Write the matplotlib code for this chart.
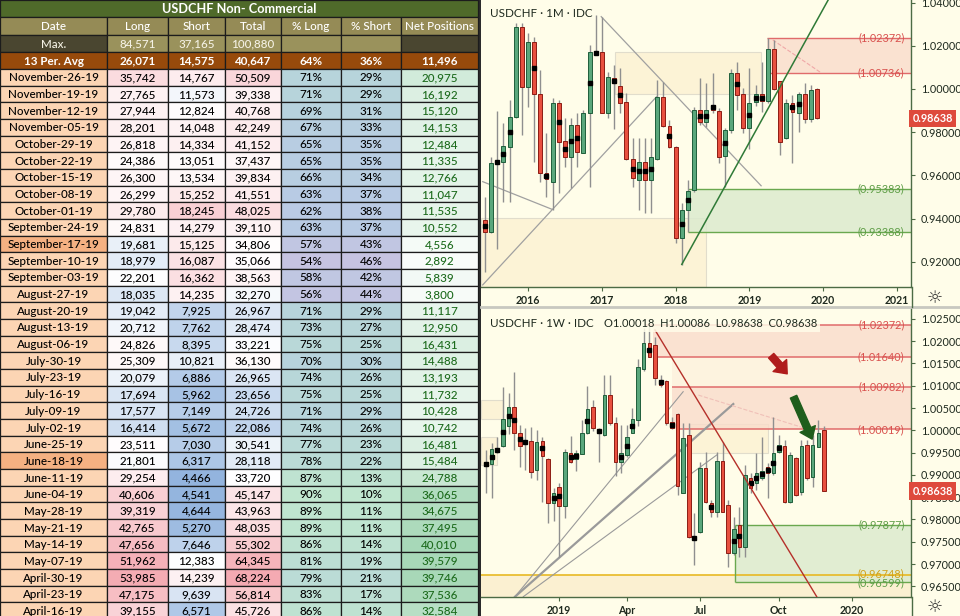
import numpy as np
import matplotlib
matplotlib.use("Agg")
import matplotlib.pyplot as plt
import matplotlib.colors as mcolors
from matplotlib.patches import Rectangle, FancyArrowPatch
from matplotlib.transforms import blended_transform_factory

plt.rcParams['font.family'] = ['Lato', 'DejaVu Sans']

# ---------------- TABLA COT ----------------
fechas = ["November-26-19", "November-19-19", "November-12-19", "November-05-19",
          "October-29-19", "October-22-19", "October-15-19", "October-08-19",
          "October-01-19", "September-24-19", "September-17-19", "September-10-19",
          "September-03-19", "August-27-19", "August-20-19", "August-13-19",
          "August-06-19", "July-30-19", "July-23-19", "July-16-19", "July-09-19",
          "July-02-19", "June-25-19", "June-18-19", "June-11-19", "June-04-19",
          "May-28-19", "May-21-19", "May-14-19", "May-07-19", "April-30-19",
          "April-23-19", "April-16-19"]
largos = [35742, 27765, 27944, 28201, 26818, 24386, 26300, 26299, 29780, 24831,
          19681, 18979, 22201, 18035, 19042, 20712, 24826, 25309, 20079, 17694,
          17577, 16414, 23511, 21801, 29254, 40606, 39319, 42765, 47656, 51962,
          53985, 47175, 39155]
cortos = [14767, 11573, 12824, 14048, 14334, 13051, 13534, 15252, 18245, 14279,
          15125, 16087, 16362, 14235, 7925, 7762, 8395, 10821, 6886, 5962,
          7149, 5672, 7030, 6317, 4466, 4541, 4644, 5270, 7646, 12383,
          14239, 9639, 6571]
totales = [50509, 39338, 40768, 42249, 41152, 37437, 39834, 41551, 48025, 39110,
           34806, 35066, 38563, 32270, 26967, 28474, 33221, 36130, 26965, 23656,
           24726, 22086, 30541, 28118, 33720, 45147, 43963, 48035, 55302, 64345,
           68224, 56814, 45726]
pct_largo = [71, 71, 69, 67, 65, 65, 66, 63, 62, 63, 57, 54, 58, 56, 71, 73, 75,
             70, 74, 75, 71, 74, 77, 78, 87, 90, 89, 89, 86, 81, 79, 83, 86]
pct_corto = [29, 29, 31, 33, 35, 35, 34, 37, 38, 37, 43, 46, 42, 44, 29, 27, 25,
             30, 26, 25, 29, 26, 23, 22, 13, 10, 11, 11, 14, 19, 21, 17, 14]
netas = [20975, 16192, 15120, 14153, 12484, 11335, 12766, 11047, 11535, 10552,
         4556, 2892, 5839, 3800, 11117, 12950, 16431, 14488, 13193, 11732,
         10428, 10742, 16481, 15484, 24788, 36065, 34675, 37495, 40010, 39579,
         39746, 37536, 32584]
fechas_resaltadas = ["September-17-19", "June-18-19"]

titulo_tabla = "USDCHF Non- Commercial"
encabezados = ["Date", "Long", "Short", "Total", "% Long", "% Short", "Net Positions"]
fila_max = ["Max.", "84,571", "37,165", "100,880", "", "", ""]
fila_prom = ["13 Per. Avg", "26,071", "14,575", "40,647", "64%", "36%", "11,496"]

# ---------------- VELAS MENSUALES (jun-2015 .. dic-2019) ----------------
m_open = [0.9394, 0.9340, 0.9661, 0.9664, 0.9733, 0.9872, 1.0285, 1.0011, 1.0216, 0.9975,
          0.9613, 0.9571, 0.9934, 0.9761, 0.9687, 0.9833, 0.9705, 0.9887, 1.0162, 1.0173,
          0.9887, 1.0049, 1.0015, 0.9938, 0.9674, 0.9579, 0.9664, 0.9579, 0.9674, 0.9965,
          0.9830, 0.9733, 0.9309, 0.9440, 0.9532, 0.9903, 0.9849, 0.9926, 0.9898, 0.9690,
          0.9810, 1.0076, 0.9975, 0.9821, 0.9941, 0.9975, 0.9946, 1.0184, 1.0037, 0.9772,
          0.9934, 0.9887, 0.9977, 0.9861, 0.9998]
m_high = [0.9502, 0.9687, 0.9898, 0.9841, 0.9949, 1.0304, 1.0304, 1.0258, 1.0242, 1.0088,
          0.9795, 0.9957, 0.9949, 0.9864, 0.9864, 0.9887, 0.9903, 1.0204, 1.0343, 1.0335,
          1.0080, 1.0111, 1.0096, 0.9980, 0.9772, 0.9772, 0.9772, 0.9772, 1.0042, 1.0034,
          0.9856, 0.9736, 0.9471, 0.9579, 0.9918, 1.0049, 1.0026, 1.0073, 0.9910, 0.9818,
          1.0091, 1.0127, 1.0003, 1.0096, 1.0019, 1.0127, 1.0237, 1.0227, 1.0039, 0.9952,
          0.9972, 0.9988, 1.0026, 1.0019, 1.0003]
m_low = [0.9154, 0.9332, 0.9258, 0.9478, 0.9478, 0.9864, 0.9787, 0.9918, 0.9664, 0.9571,
         0.9502, 0.9440, 0.9520, 0.9640, 0.9540, 0.9640, 0.9702, 0.9548, 1.0157, 0.9887,
         0.9864, 0.9813, 0.9887, 0.9671, 0.9548, 0.9440, 0.9427, 0.9424, 0.9671, 0.9826,
         0.9725, 0.9289, 0.9185, 0.9340, 0.9525, 0.9833, 0.9826, 0.9887, 0.9656, 0.9548,
         0.9795, 0.9903, 0.9795, 0.9721, 0.9921, 0.9895, 0.9934, 0.9995, 0.9694, 0.9767,
         0.9659, 0.9802, 0.9841, 0.9849, 0.9860]
m_close = [0.9340, 0.9656, 0.9667, 0.9736, 0.9872, 1.0285, 1.0011, 1.0216, 0.9975, 0.9613,
           0.9582, 0.9934, 0.9756, 0.9687, 0.9833, 0.9710, 0.9887, 1.0170, 1.0173, 0.9890,
           1.0054, 1.0026, 0.9934, 0.9674, 0.9586, 0.9664, 0.9579, 0.9684, 0.9965, 0.9830,
           0.9733, 0.9309, 0.9440, 0.9528, 0.9903, 0.9849, 0.9903, 0.9903, 0.9684, 0.9810,
           1.0076, 0.9972, 0.9821, 0.9934, 0.9975, 0.9946, 1.0184, 1.0000, 0.9756, 0.9937,
           0.9895, 0.9975, 0.9861, 0.9995, 0.9864]
m_marcas = [0, 2, 3, 4, 8, 10, 12, 13, 14, 15, 17, 18, 21, 22, 24, 25, 26, 27, 30,
            32, 33, 35, 36, 37, 39, 41, 43, 44, 45, 50, 51]
m_ticks = [7, 19, 31, 43, 55, 67]
m_tick_labels = ["2016", "2017", "2018", "2019", "2020", "2021"]

# ---------------- VELAS SEMANALES ----------------
w_open = [0.99200, 0.99245, 0.99521, 0.99656, 1.00105, 1.00516, 0.99948, 0.99738, 0.99768, 0.99110,
          0.99768, 0.99357, 0.98377, 0.98736, 0.98310, 0.99499, 0.99349, 0.99469, 0.99933, 1.00516,
          1.00022, 0.99895, 1.00793, 1.00172, 0.99297, 0.99447, 0.99948, 1.00232, 1.01369, 1.01967,
          1.01915, 1.01129, 1.01107, 1.00194, 1.00359, 0.98601, 0.99895, 0.97592, 0.97711, 0.99162,
          0.98377, 0.98175, 0.99312, 0.98325, 0.97240, 0.97876, 0.97375, 0.98923, 0.98826, 0.98923,
          0.99170, 0.99035, 0.99521, 0.99648, 0.98400, 0.99372, 0.98624, 0.99671, 0.98960, 0.99634,
          1.00018]
w_high = [0.99559, 0.99708, 0.99858, 1.00965, 1.00845, 1.01316, 1.00120, 1.00045, 1.00082, 1.00007,
          0.99858, 0.99387, 0.98699, 0.98811, 0.99574, 0.99873, 0.99559, 1.00232, 1.00995, 1.00681,
          1.00060, 1.01241, 1.01241, 1.00292, 1.00120, 1.00120, 1.00494, 1.01593, 1.02289, 1.02372,
          1.02102, 1.01241, 1.01129, 1.00307, 1.00381, 1.00157, 1.00157, 0.98138, 0.99297, 0.99521,
          0.98437, 0.99521, 0.99746, 0.98437, 0.98063, 0.98287, 0.99222, 0.99035, 0.99484, 0.99858,
          0.99260, 1.00307, 0.99895, 0.99783, 0.99521, 0.99409, 0.99783, 0.99783, 0.99895, 1.00232,
          1.00086]
w_low = [0.98587, 0.98489, 0.99484, 0.99634, 0.99918, 0.99559, 0.99185, 0.99110, 0.98923, 0.98886,
         0.98400, 0.97928, 0.97973, 0.97166, 0.98026, 0.99275, 0.99095, 0.99469, 0.99918, 0.99993,
         0.99297, 0.99873, 1.00120, 0.98975, 0.99050, 0.99409, 0.99933, 1.00097, 1.01339, 1.01638,
         1.01017, 1.00980, 1.00120, 1.00022, 0.98549, 0.98587, 0.97577, 0.96979, 0.97689, 0.98377,
         0.98063, 0.98063, 0.98160, 0.96941, 0.97203, 0.97166, 0.97166, 0.98587, 0.98661, 0.98886,
         0.98474, 0.98998, 0.99499, 0.98377, 0.98377, 0.98527, 0.98549, 0.98886, 0.98736, 0.99619,
         0.98638]
w_close = [0.99275, 0.99574, 0.99611, 1.00247, 1.00516, 0.99933, 0.99656, 0.99716, 0.99073, 0.99746,
           0.99424, 0.98362, 0.98601, 0.98310, 0.99521, 0.99297, 0.99499, 0.99948, 1.00479, 1.00045,
           0.99933, 1.00793, 1.00172, 0.99297, 0.99484, 0.99858, 1.00247, 1.01413, 1.01952, 1.01653,
           1.01167, 1.01017, 1.00157, 1.00045, 0.98758, 0.99835, 0.97614, 0.97569, 0.99162, 0.98400,
           0.98160, 0.99319, 0.98175, 0.97240, 0.97786, 0.97390, 0.98998, 0.98699, 0.99035, 0.99095,
           0.99035, 0.99499, 0.99671, 0.98400, 0.99447, 0.98549, 0.99648, 0.98923, 0.99671, 0.99948,
           0.98638]
w_marcas = [0, 1, 2, 3, 4, 5, 6, 7, 10, 12, 13, 15, 16, 18, 20, 24, 25, 26, 29, 31,
            33, 37, 40, 44, 45, 47, 48, 49, 50, 51, 52]
w_ticks = [13, 25, 38, 52, 65]
w_tick_labels = ["2019", "Apr", "Jul", "Oct", "2020"]

ultimo_precio = 0.98638

# Dibujos del grafico mensual: zonas (inicio, bajo, alto) y lineas ((x0, y0), (x1, y1))
m_zona_roja = (45.9, 1.00736, 1.02372)
m_zona_verde = (33.0, 0.93388, 0.95383)
m_caja_beige = (21.1, 44.9, 0.99755, 1.0170)
m_caja_beige_baja = (35.9, 0.94042)
m_lineas_grises = [((18.9, 1.0335), (44.9, 0.9552)),
                   ((-0.37, 0.9571), (10.9, 0.9443)),
                   ((-0.37, 0.9093), (27.9, 0.99644))]
m_linea_verde = ((32.0, 0.9188), (55.8, 1.0412))
m_linea_rosa = ((46.8, 1.0227), (54.7, 1.0074))

# Dibujos del grafico semanal
w_niveles_rojos = [(28.2, 1.02372), (29.7, 1.01640), (33.0, 1.00982), (34.1, 1.00019)]
w_zona_verde = (44.2, 0.96599, 0.97877)
w_linea_oro = 0.96748
w_cajas_beige = [(36.2, 50.0, 0.99484, 1.00135), (-0.9, 2.96, 1.00247, 1.0068),
                 (-0.9, 1.9, 0.99221, 0.99856)]
w_linea_roja = ((30.0, 1.0225), (58.7, 0.9627))
w_abanico = [((5.15, 0.96267), (35.0, 1.00866), 0.8),
             ((5.15, 0.96267), (43.9, 1.0059), 1.6),
             ((6.62, 0.96267), (40.96, 0.99446), 0.8)]
w_linea_rosa = ((37.7, 1.0079), (57.8, 1.0000))
w_flecha_roja = ((50.3, 1.0172), (53.8, 1.0122))
w_flecha_verde = ((54.4, 1.0081), (58.1, 0.99744))

# ---------------- ESTILO ----------------
FONDO = '#fffde9'
VERDE = '#5aa77c'
VERDE_BORDE = '#1f5e3b'
ROJO = '#e8503f'
ROJO_BORDE = '#8c1c14'
MECHA = '#8f8f8f'
EJE = '#4c6b45'
TXT = '#1f2a1f'
ZONA_ROJA = '#f9dccb'
LINEA_ROJA = '#e06b6b'
ZONA_VERDE = '#dcebcf'
LINEA_VERDE = '#6aa84f'
BEIGE = '#fbefcf'

fig = plt.figure(figsize=(9.6, 6.16), dpi=100)
fig.patch.set_facecolor(FONDO)


def mezcla(c1, c2, t):
    t = min(max(t, 0.0), 1.0)
    a = np.array(mcolors.to_rgb(c1))
    b = np.array(mcolors.to_rgb(c2))
    return tuple(a * (1 - t) + b * t)


def escala3(v, lo, mid, hi):
    if v < mid:
        return mezcla('#ffffff', '#8db0dc', (mid - v) / (mid - lo))
    return mezcla('#ffffff', '#f3a1a9', (v - mid) / (hi - mid))


def escala_pct(v):
    paradas = [(54, '#c6c3e1'), (63, '#b8cbe4'), (72, '#b7d5da'), (90, '#c0e6cf')]
    if v <= paradas[0][0]:
        return paradas[0][1]
    for (v0, c0), (v1, c1) in zip(paradas[:-1], paradas[1:]):
        if v <= v1:
            return mezcla(c0, c1, (v - v0) / (v1 - v0))
    return paradas[-1][1]


# ---------------- TABLA ----------------
ax_t = fig.add_axes([0, 0, 481 / 960, 1])
ax_t.set_xlim(0, 481)
ax_t.set_ylim(616, 0)
ax_t.axis('off')
ax_t.add_patch(Rectangle((0, 0), 481, 616, facecolor='#2b2b2b', edgecolor='none'))

bx = [0, 107, 168, 225, 281, 341, 401, 478]
fila_alto = 16.67
y_datos = 69


def celda(x0, x1, y0, y1, fondo, texto='', color='black', peso='medium', tam=8.4):
    ax_t.add_patch(Rectangle((x0, y0), x1 - x0, y1 - y0, facecolor=fondo,
                             edgecolor='#1c1c1c', linewidth=0.9))
    if texto:
        ax_t.text((x0 + x1) / 2, (y0 + y1) / 2 + 0.6, texto, ha='center', va='center',
                  color=color, fontsize=tam, fontweight=peso)


celda(0, 478, 0, 17.3, '#4f6a2a', titulo_tabla, 'white', 'bold', 9.2)
for j, txt in enumerate(encabezados):
    celda(bx[j], bx[j + 1], 17.3, 35, '#958b56', txt, 'white')
for j, txt in enumerate(fila_max):
    fondo = '#4a4630' if j in (0, 6) else '#9a925c'
    celda(bx[j], bx[j + 1], 35, 52, fondo, txt, '#f4f1e4')
for j, txt in enumerate(fila_prom):
    celda(bx[j], bx[j + 1], 52, 69, '#974a0b', txt, 'white', 'bold')

for i in range(len(fechas)):
    y0 = y_datos + i * fila_alto
    y1 = y0 + fila_alto
    fondo_fecha = '#f5b182' if fechas[i] in fechas_resaltadas else '#fcd5b4'
    celda(bx[0], bx[1], y0, y1, fondo_fecha, fechas[i])
    celda(bx[1], bx[2], y0, y1, escala3(largos[i], 8000, 22500, 58000), f"{largos[i]:,}")
    celda(bx[2], bx[3], y0, y1, escala3(cortos[i], 4000, 12500, 24000), f"{cortos[i]:,}")
    celda(bx[3], bx[4], y0, y1, escala3(totales[i], 12000, 34000, 72000), f"{totales[i]:,}")
    celda(bx[4], bx[5], y0, y1, escala_pct(pct_largo[i]), f"{pct_largo[i]}%")
    celda(bx[5], bx[6], y0, y1, escala_pct(pct_largo[i]), f"{pct_corto[i]}%")
    celda(bx[6], bx[7], y0, y1, mezcla('#ffffff', '#a3d6b4', netas[i] / 42000),
          f"{netas[i]:,}", '#1d6b1d')


# ---------------- GRAFICOS ----------------
def dibujar_velas(ax, o, h, l, c, ancho, marcas):
    o, h, l, c = map(np.asarray, (o, h, l, c))
    x = np.arange(len(o))
    sube = c >= o
    ax.vlines(x, l, h, color=MECHA, linewidth=1.0, zorder=3)
    base = np.minimum(o, c)
    alto = np.maximum(np.abs(c - o), 0.0004)
    ax.bar(x[sube], alto[sube], ancho, bottom=base[sube], color=VERDE,
           edgecolor=VERDE_BORDE, linewidth=0.7, zorder=4)
    ax.bar(x[~sube], alto[~sube], ancho, bottom=base[~sube], color=ROJO,
           edgecolor=ROJO_BORDE, linewidth=0.7, zorder=4)
    medio = (o + c) / 2
    ax.plot(x[marcas], medio[marcas], 's', ms=2.2, color='black', zorder=5)


def preparar_eje(ax, xlim, ylim, yticks, xticks, xlabels):
    ax.set_facecolor(FONDO)
    ax.set_xlim(*xlim)
    ax.set_ylim(*ylim)
    ax.spines['top'].set_visible(False)
    ax.spines['left'].set_visible(False)
    ax.spines['right'].set_color(EJE)
    ax.spines['bottom'].set_color(EJE)
    ax.spines['right'].set_linewidth(1.0)
    ax.spines['bottom'].set_linewidth(1.0)
    ax.yaxis.tick_right()
    ax.set_yticks(yticks)
    ax.set_yticklabels([f"{v:.5f}" for v in yticks])
    ax.tick_params(axis='y', length=3, color=EJE, labelcolor=TXT, labelsize=7.8, pad=4)
    ax.set_xticks(xticks)
    ax.set_xticklabels(xlabels, fontweight='bold')
    ax.tick_params(axis='x', length=3, color=EJE, labelcolor=TXT, labelsize=7.6, pad=3)


def etiqueta_nivel(ax, y, color, desfase=0.0):
    tr = blended_transform_factory(ax.transAxes, ax.transData)
    ax.text(0.985, y + desfase, f"({y:.5f})", transform=tr, ha='right', va='center',
            color=color, fontsize=7.8, zorder=6)


def etiqueta_precio(ax, y):
    tr = blended_transform_factory(ax.transAxes, ax.transData)
    ax.text(1.004, y, f"{y:.5f}", transform=tr, ha='left', va='center', color='white',
            fontsize=7.8, fontweight='bold', clip_on=False, zorder=10,
            bbox=dict(boxstyle='square,pad=0.3', fc='#de4a3c', ec='none'))


# ---- Mensual ----
ax1 = fig.add_axes([481 / 960, (616 - 287) / 616, 430 / 960, 287 / 616])
m_xlim = (-0.65, 69.27)
m_ylim = (0.90833, 1.0412)
preparar_eje(ax1, m_xlim, m_ylim, np.arange(0.92, 1.041, 0.02), m_ticks, m_tick_labels)

bx0, bx1, by0, by1 = m_caja_beige
ax1.add_patch(Rectangle((bx0, by0), bx1 - bx0, by1 - by0, facecolor=BEIGE, alpha=0.7,
                        edgecolor='#d6d2c4', linewidth=0.8, zorder=1))
ax1.add_patch(Rectangle((m_xlim[0], m_ylim[0]), m_caja_beige_baja[0] - m_xlim[0],
                        m_caja_beige_baja[1] - m_ylim[0], facecolor=BEIGE, alpha=0.7,
                        edgecolor='#d6d2c4', linewidth=0.8, zorder=1))
x0, lo, hi = m_zona_roja
ax1.add_patch(Rectangle((x0, lo), m_xlim[1] - x0, hi - lo, facecolor=ZONA_ROJA,
                        alpha=0.8, edgecolor='none', zorder=1))
ax1.hlines([lo, hi], x0, m_xlim[1], color=LINEA_ROJA, linewidth=1.0, zorder=2)
etiqueta_nivel(ax1, hi, '#d9534f')
etiqueta_nivel(ax1, lo, '#d9534f')
x0, lo, hi = m_zona_verde
ax1.add_patch(Rectangle((x0, lo), m_xlim[1] - x0, hi - lo, facecolor=ZONA_VERDE,
                        alpha=0.85, edgecolor='none', zorder=1))
ax1.hlines([lo, hi], x0, m_xlim[1], color=LINEA_VERDE, linewidth=1.0, zorder=2)
etiqueta_nivel(ax1, hi, '#5f9e47')
etiqueta_nivel(ax1, lo, '#5f9e47')

for (p0, p1) in m_lineas_grises:
    ax1.plot([p0[0], p1[0]], [p0[1], p1[1]], color='#a0a0a0', linewidth=0.9, zorder=2)
(p0, p1) = m_linea_verde
ax1.plot([p0[0], p1[0]], [p0[1], p1[1]], color='#2f7a37', linewidth=1.1, zorder=6)
(p0, p1) = m_linea_rosa
ax1.plot([p0[0], p1[0]], [p0[1], p1[1]], color='#f0a8a8', linewidth=0.8, ls='--', zorder=2)

dibujar_velas(ax1, m_open, m_high, m_low, m_close, 0.64, m_marcas)
etiqueta_precio(ax1, ultimo_precio)
ax1.text(0.02, 0.953, "USDCHF · 1M · IDC", transform=ax1.transAxes, fontsize=8.4,
         color=TXT, va='center', ha='left', zorder=8)

# ---- Semanal ----
ax2 = fig.add_axes([481 / 960, (616 - 597) / 616, 430 / 960, 289 / 616])
w_xlim = (-0.89, 75.45)
w_ylim = (0.96260, 1.02744)
preparar_eje(ax2, w_xlim, w_ylim, np.arange(0.965, 1.0251, 0.005), w_ticks, w_tick_labels)

for (c0, c1, y0, y1) in w_cajas_beige:
    ax2.add_patch(Rectangle((c0, y0), c1 - c0, y1 - y0, facecolor=BEIGE, alpha=0.7,
                            edgecolor='#d6d2c4', linewidth=0.8, zorder=1))
ax2.add_patch(Rectangle((w_xlim[0], w_ylim[0]), w_xlim[1] - w_xlim[0],
                        w_linea_oro - w_ylim[0], facecolor=BEIGE, alpha=0.9,
                        edgecolor='none', zorder=1))
ax2.axhline(w_linea_oro, color='#e8b923', linewidth=1.2, zorder=2)
etiqueta_nivel(ax2, w_linea_oro, '#d1a21c', 0.0003)

niv = w_niveles_rojos
ax2.add_patch(Rectangle((niv[1][0], niv[1][1]), w_xlim[1] - niv[1][0], niv[0][1] - niv[1][1],
                        facecolor=ZONA_ROJA, alpha=0.8, edgecolor='none', zorder=1))
ax2.add_patch(Rectangle((niv[2][0], niv[2][1]), w_xlim[1] - niv[2][0], niv[1][1] - niv[2][1],
                        facecolor=ZONA_ROJA, alpha=0.3, edgecolor='none', zorder=1))
ax2.add_patch(Rectangle((niv[2][0], niv[3][1]), w_xlim[1] - niv[2][0], niv[2][1] - niv[3][1],
                        facecolor=ZONA_ROJA, alpha=0.8, edgecolor='none', zorder=1))
for (x0, y) in niv:
    ax2.hlines(y, x0, w_xlim[1], color=LINEA_ROJA, linewidth=1.1, zorder=2)
    etiqueta_nivel(ax2, y, '#d9534f')

x0, lo, hi = w_zona_verde
ax2.add_patch(Rectangle((x0, lo), w_xlim[1] - x0, hi - lo, facecolor=ZONA_VERDE,
                        alpha=0.85, edgecolor='none', zorder=1))
ax2.hlines([lo, hi], x0, w_xlim[1], color=LINEA_VERDE, linewidth=1.0, zorder=2)
ax2.vlines(x0, lo, hi, color=LINEA_VERDE, linewidth=1.0, zorder=2)
etiqueta_nivel(ax2, hi, '#5f9e47')
etiqueta_nivel(ax2, lo, '#5f9e47', -0.0003)

for (p0, p1, lw) in w_abanico:
    ax2.plot([p0[0], p1[0]], [p0[1], p1[1]], color='#9a9a9a', linewidth=lw, zorder=2)
(p0, p1) = w_linea_rosa
ax2.plot([p0[0], p1[0]], [p0[1], p1[1]], color='#f0c0b8', linewidth=0.8, ls='--', zorder=2)

dibujar_velas(ax2, w_open, w_high, w_low, w_close, 0.62, w_marcas)

(p0, p1) = w_linea_roja
ax2.plot([p0[0], p1[0]], [p0[1], p1[1]], color='#b5302a', linewidth=1.0, zorder=6)

ax2.add_patch(FancyArrowPatch(w_flecha_roja[0], w_flecha_roja[1],
                              arrowstyle='simple,head_length=8,head_width=13,tail_width=5',
                              mutation_scale=1, color='#b01c1c', zorder=9))
ax2.add_patch(FancyArrowPatch(w_flecha_verde[0], w_flecha_verde[1],
                              arrowstyle='simple,head_length=8,head_width=12,tail_width=5',
                              mutation_scale=1, color='#1f5e1c', zorder=9))

etiqueta_precio(ax2, ultimo_precio)
ax2.text(0.02, 0.945, "USDCHF · 1W · IDC", transform=ax2.transAxes, fontsize=8.4,
         color=TXT, va='center', ha='left', zorder=8)
ax2.text(0.285, 0.945, "O1.00018  H1.00086  L0.98638  C0.98638", transform=ax2.transAxes,
         fontsize=8, color=TXT, va='center', ha='left', zorder=8,
         bbox=dict(boxstyle='square,pad=0.25', fc=FONDO, ec='none', alpha=0.85))

# separadores y engranajes
fig.add_artist(plt.Line2D([481 / 960, 1], [1 - 307 / 616] * 2, color='#c8c8c0', linewidth=2))
fig.add_artist(plt.Line2D([911.5 / 960] * 2, [1 - 307 / 616, 1 - 287 / 616], color=EJE, linewidth=1))
fig.add_artist(plt.Line2D([911.5 / 960] * 2, [0, 19 / 616], color=EJE, linewidth=1))
fig.text(935 / 960, 1 - 298 / 616, "☼", fontsize=13, color='#333333', ha='center', va='center',
         family='DejaVu Sans')
fig.text(935 / 960, 1 - 607 / 616, "☼", fontsize=13, color='#333333', ha='center', va='center',
         family='DejaVu Sans')

fig.savefig('out.png', dpi=100, facecolor=FONDO)
